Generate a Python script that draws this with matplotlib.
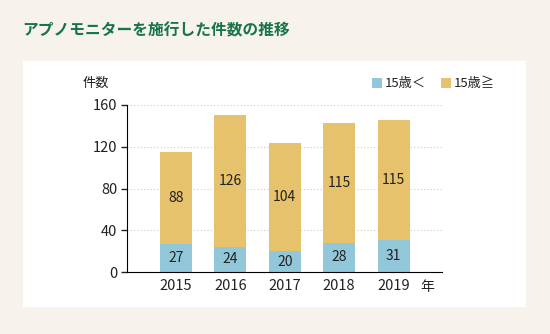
import matplotlib.pyplot as plt
from matplotlib.patches import Rectangle

plt.rcParams['font.family'] = ['Noto Sans CJK JP', 'DejaVu Sans']

years = ["2015", "2016", "2017", "2018", "2019"]
under15 = [27, 24, 20, 28, 31]
over15 = [88, 126, 104, 115, 115]
yticks = [0, 40, 80, 120, 160]

blue = "#92c7da"
yellow = "#e6c26c"
bg = "#f7f3ec"

fig = plt.figure(figsize=(5.5, 3.34), dpi=100, facecolor=bg)

# white panel
fig.patches.append(Rectangle((23 / 550, 1 - 307 / 334), 503 / 550, 246 / 334,
                             transform=fig.transFigure, facecolor="white",
                             edgecolor="none", zorder=0))

fig.text(22 / 550, 1 - 30 / 334, "アプノモニターを施行した件数の推移",
         color="#17744a", fontsize=11.3, fontweight="bold", va="center")

ax = fig.add_axes([127 / 550, 1 - 272 / 334, 315 / 550, 167 / 334])
ax.set_facecolor("none")
ax.set_zorder(2)

x = list(range(len(years)))
w = 0.59
ax.bar(x, under15, width=w, color=blue, zorder=2)
ax.bar(x, over15, width=w, bottom=under15, color=yellow, zorder=2)

for i in x:
    ax.text(i, under15[i] / 2, str(under15[i]), ha="center", va="center",
            fontsize=10, color="#222222", zorder=3)
    ax.text(i, under15[i] + over15[i] / 2, str(over15[i]), ha="center",
            va="center", fontsize=10, color="#222222", zorder=3)

ax.set_xlim(-0.9, 4.89)
ax.set_ylim(0, 160)
ax.set_yticks(yticks)
ax.set_xticks(x)
ax.set_xticklabels(years)
ax.tick_params(axis="x", length=0, labelsize=10.5, pad=5, colors="#222222")
ax.tick_params(axis="y", length=4, width=1, labelsize=10.5, pad=3, colors="#222222")
ax.grid(axis="y", color="#cccccc", linestyle=(0, (1, 2)), linewidth=0.8, zorder=1)
for s in ["top", "right"]:
    ax.spines[s].set_visible(False)
ax.spines["left"].set_color("black")
ax.spines["bottom"].set_color("black")

fig.text(83 / 550, 1 - 83 / 334, "件数", fontsize=9.5, va="center", color="#222222")
fig.text(420 / 550, 1 - 287 / 334, "年", fontsize=10, va="center", color="#222222")

# legend
fig.patches.append(Rectangle((372 / 550, 1 - 88 / 334), 10 / 550, 10 / 334,
                             transform=fig.transFigure, facecolor=blue, edgecolor="none"))
fig.text(385 / 550, 1 - 83 / 334, "15歳＜", fontsize=9.5, va="center", color="#222222")
fig.patches.append(Rectangle((441 / 550, 1 - 88 / 334), 10 / 550, 10 / 334,
                             transform=fig.transFigure, facecolor=yellow, edgecolor="none"))
fig.text(454 / 550, 1 - 83 / 334, "15歳≧", fontsize=9.5, va="center", color="#222222")

fig.savefig("out.png", dpi=100, facecolor=bg)
